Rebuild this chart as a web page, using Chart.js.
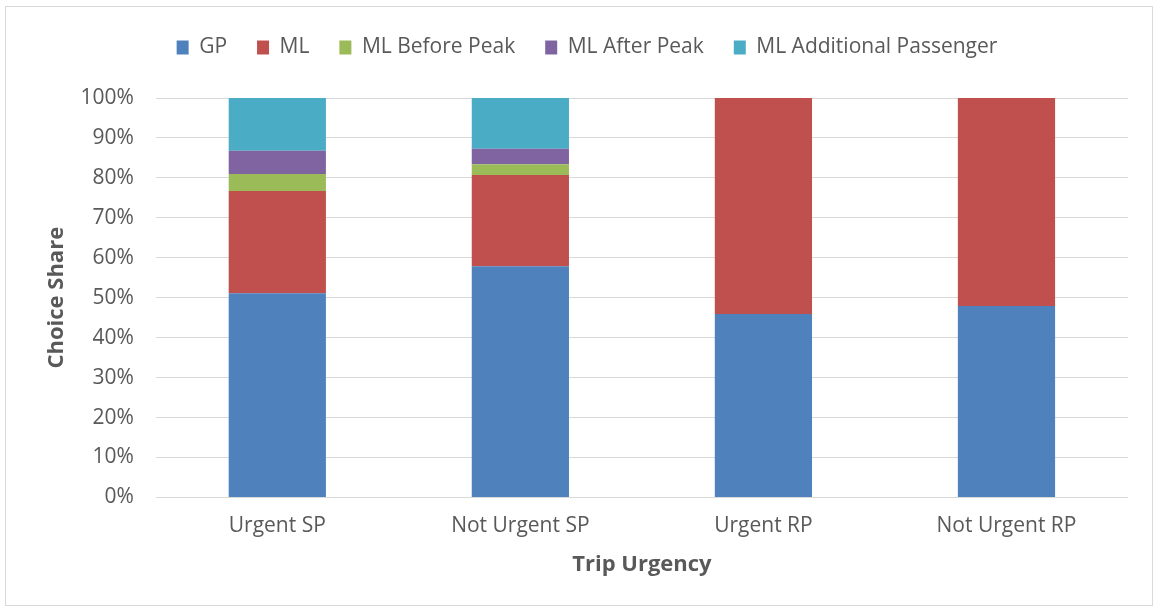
<!DOCTYPE html>
<html>
<head>
<meta charset="utf-8">
<script src="https://cdn.jsdelivr.net/npm/chart.js@4"></script>
<style>
  html, body { margin: 0; padding: 0; background: #fff; }
  #wrap { position: relative; width: 1154px; height: 609px; }
  #frame { position: absolute; left: 5px; top: 6px; width: 1148px; height: 600px; border: 1px solid #d9d9d9; box-sizing: border-box; pointer-events: none; }
  canvas { position: absolute; left: 0; top: 0; }
</style>
</head>
<body>
<div id="wrap">
  <canvas id="choiceChart" width="1154" height="609"></canvas>
  <div id="frame"></div>
</div>
<script>
// categories and series (choice share, %)
const categories = ["Urgent SP", "Not Urgent SP", "Urgent RP", "Not Urgent RP"];
const gp = [51.1, 57.9, 45.9, 47.9];
const ml = [25.6, 22.8, 54.1, 52.1];
const mlBeforePeak = [4.3, 2.7, 0, 0];
const mlAfterPeak = [5.8, 3.9, 0, 0];
const mlAdditional = [13.2, 12.7, 0, 0];
const yTicks = [0, 10, 20, 30, 40, 50, 60, 70, 80, 90, 100];

const FONT = "'Open Sans', sans-serif";
const TEXT = "#595959";

// extra space between the legend and the plot
const legendGap = {
    id: 'legendGap',
    beforeInit: function(chart) {
        const fit = chart.legend.fit;
        chart.legend.fit = function() {
            fit.call(this);
            this.height += 30;
        };
    }
};

const ChoiceChart = {
    init: function() {
        const canvas = document.getElementById("choiceChart");
        if (!canvas) return;

        const series = [
            { label: "GP", data: gp, color: "#4f81bd" },
            { label: "ML", data: ml, color: "#c0504d" },
            { label: "ML Before Peak", data: mlBeforePeak, color: "#9bbb59" },
            { label: "ML After Peak", data: mlAfterPeak, color: "#8064a2" },
            { label: "ML Additional Passenger", data: mlAdditional, color: "#4bacc6" }
        ];

        new Chart(canvas.getContext('2d'), {
            type: 'bar',
            data: {
                labels: categories,
                datasets: series.map(s => ({
                    label: s.label,
                    data: s.data,
                    backgroundColor: s.color,
                    borderWidth: 0,
                    categoryPercentage: 1,
                    barPercentage: 0.4
                }))
            },
            plugins: [legendGap],
            options: {
                responsive: false,
                animation: false,
                layout: { padding: { left: 46, right: 26, top: 7, bottom: 27 } },
                plugins: {
                    tooltip: { enabled: false },
                    legend: {
                        position: 'top',
                        labels: {
                            boxWidth: 12,
                            boxHeight: 14,
                            padding: 30,
                            color: TEXT,
                            font: { family: FONT, size: 21 }
                        }
                    }
                },
                scales: {
                    x: {
                        stacked: true,
                        grid: { display: false },
                        border: { display: false },
                        ticks: { color: TEXT, font: { family: FONT, size: 21 }, padding: 8 },
                        title: {
                            display: true,
                            text: "Trip Urgency",
                            color: TEXT,
                            font: { family: FONT, size: 22, weight: 'bold' },
                            padding: { top: 5 }
                        }
                    },
                    y: {
                        stacked: true,
                        min: 0,
                        max: 100,
                        afterBuildTicks: axis => { axis.ticks = yTicks.map(v => ({ value: v })); },
                        grid: { color: "#d9d9d9", lineWidth: 1, drawTicks: false },
                        border: { display: false },
                        ticks: {
                            color: TEXT,
                            font: { family: FONT, size: 21 },
                            padding: 22,
                            callback: v => v + "%"
                        },
                        title: {
                            display: true,
                            text: "Choice Share",
                            color: TEXT,
                            font: { family: FONT, size: 22, weight: 'bold' },
                            padding: { top: -2, bottom: -12 }
                        }
                    }
                }
            }
        });
    }
};

document.addEventListener("DOMContentLoaded", function() {
    ChoiceChart.init();
});
</script>
</body>
</html>
